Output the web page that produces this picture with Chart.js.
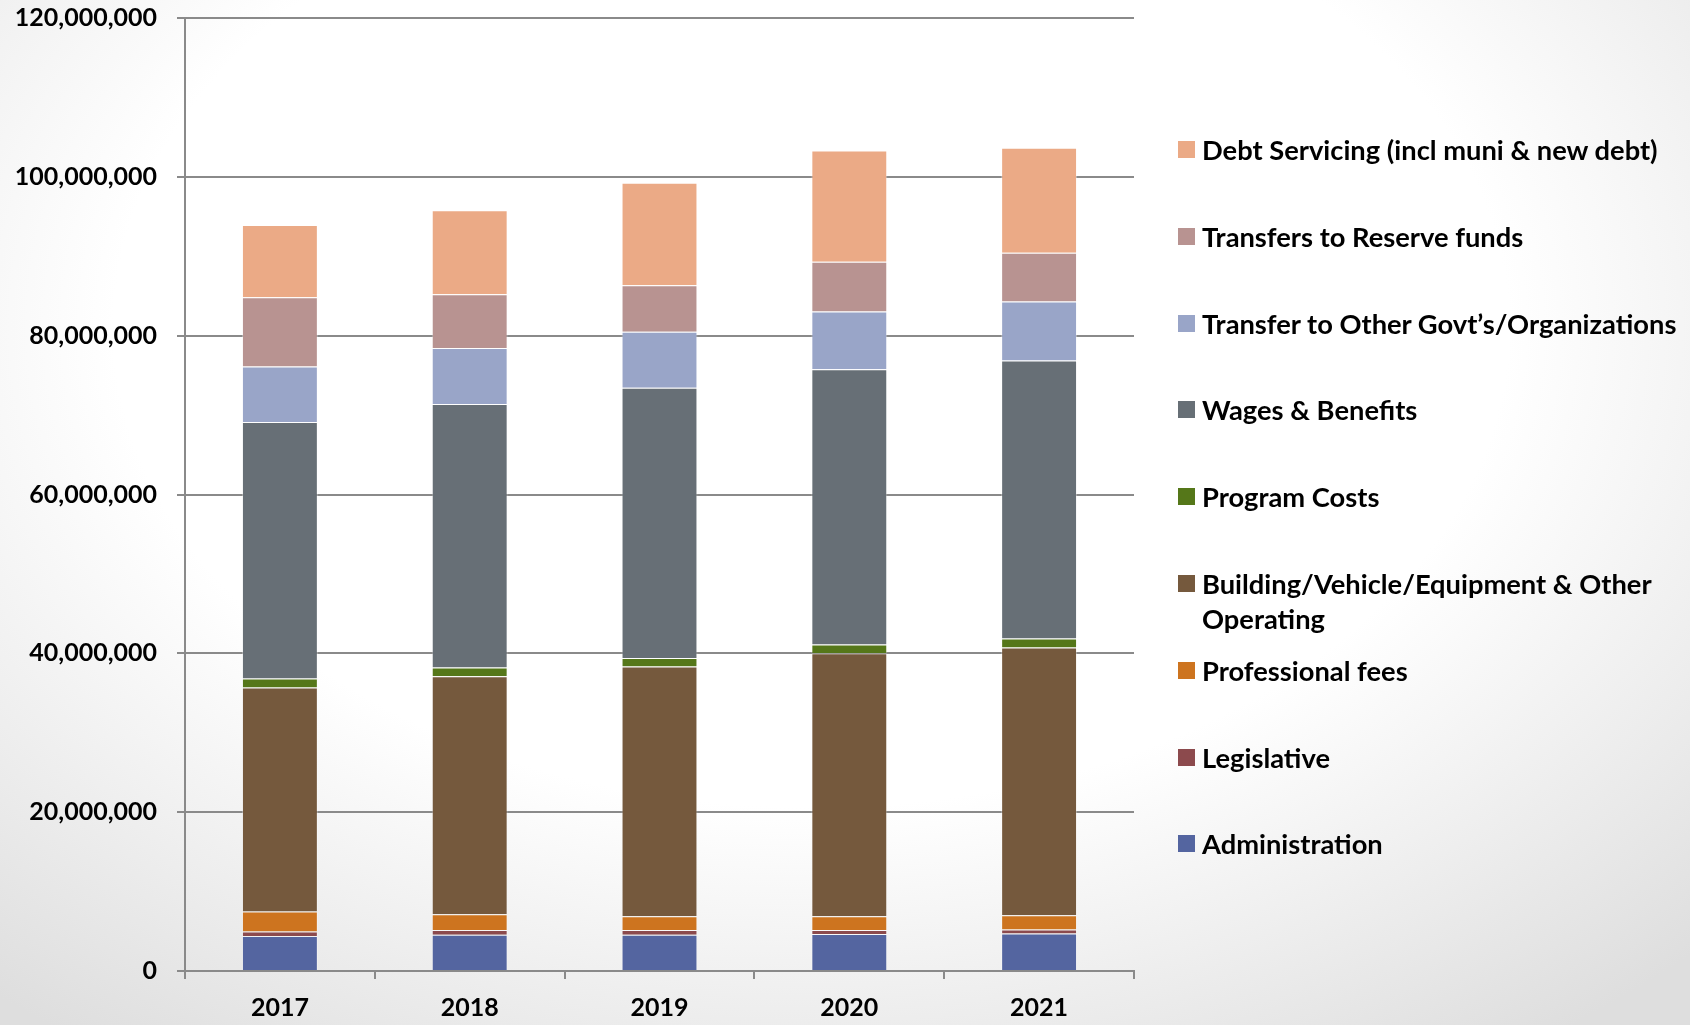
<!DOCTYPE html>
<html>
<head>
<meta charset="utf-8">
<script src="https://cdn.jsdelivr.net/npm/chart.js@4"></script>
<style>
  html, body { margin: 0; padding: 0; }
  body {
    width: 1690px; height: 1025px; overflow: hidden;
    background: radial-gradient(ellipse 75% 85% at 48% 32%, #ffffff 55%, #dedede 100%);
    font-family: Lato, "Open Sans", sans-serif;
  }
  #wrap { position: absolute; left: 0; top: 0; width: 1690px; height: 1025px; }
  #legend { position: absolute; left: 1178px; top: 132px; width: 510px; }
  .item { position: relative; height: 86.8px; }
  .box { position: absolute; left: 0; top: 9px; width: 17px; height: 17px; }
  .txt { position: absolute; left: 24px; top: 0; width: 488px; font-weight: 700; font-size: 27.3px; line-height: 35px; color: #000; }
</style>
</head>
<body>
<div id="wrap"><canvas id="budget"></canvas></div>
<div id="legend"></div>
<script>
  const years = ['2017', '2018', '2019', '2020', '2021'];

  // values in millions, bottom of stack first
  const administration = [4.41, 4.58, 4.58, 4.66, 4.71];
  const legislative = [0.55, 0.58, 0.58, 0.50, 0.50];
  const professionalFees = [2.52, 1.98, 1.73, 1.73, 1.80];
  const buildingOperating = [28.21, 29.98, 31.45, 33.12, 33.72];
  const programCosts = [1.14, 1.09, 1.08, 1.10, 1.13];
  const wagesBenefits = [32.29, 33.20, 34.01, 34.67, 35.02];
  const transferOther = [7.00, 7.05, 7.05, 7.27, 7.43];
  const transferReserve = [8.73, 6.77, 5.88, 6.25, 6.12];
  const debtServicing = [9.07, 10.57, 12.89, 14.02, 13.23];

  const yTicks = [0, 20000000, 40000000, 60000000, 80000000, 100000000, 120000000];

  const series = [
    ['Administration', administration, '#5465A0'],
    ['Legislative', legislative, '#8C4A4D'],
    ['Professional fees', professionalFees, '#CD741F'],
    ['Building/Vehicle/Equipment & Other Operating', buildingOperating, '#75593D'],
    ['Program Costs', programCosts, '#557719'],
    ['Wages & Benefits', wagesBenefits, '#676F76'],
    ['Transfer to Other Govt\u2019s/Organizations', transferOther, '#99A5C8'],
    ['Transfers to Reserve funds', transferReserve, '#B89391'],
    ['Debt Servicing (incl muni & new debt)', debtServicing, '#EBAA86']
  ];

  const axisGray = '#8a8a8a';
  const tickFont = { family: 'Lato', size: 25, weight: 'bold' };

  const ctx = document.getElementById('budget');

  const chart = new Chart(ctx, {
    type: 'bar',
    data: {
      labels: years,
      datasets: series.map(([label, vals, color]) => ({
        label: label,
        data: vals.map(v => v * 1000000),
        backgroundColor: color,
        borderColor: 'rgba(255,255,255,0.35)',
        borderWidth: 1,
        barPercentage: 0.8,
        categoryPercentage: 0.5
      }))
    },
    options: {
      responsive: true,
      maintainAspectRatio: false,
      animation: false,
      layout: { padding: { left: 0, top: 18, right: 556, bottom: 0 } },
      plugins: {
        legend: { display: false },
        tooltip: { enabled: false }
      },
      scales: {
        x: {
          stacked: true,
          afterFit: (s) => { s.height = 54; },
          border: { display: true, color: axisGray, width: 2 },
          grid: { drawOnChartArea: false, drawTicks: true, tickLength: 8, color: axisGray, lineWidth: 2 },
          ticks: { color: '#000', font: tickFont, padding: 14 }
        },
        y: {
          stacked: true,
          min: 0,
          max: 120000000,
          afterFit: (s) => { s.width = 185; s.paddingTop = 0; s.paddingBottom = 0; },
          afterBuildTicks: (s) => { s.ticks = yTicks.map(v => ({ value: v })); },
          border: { display: true, color: axisGray, width: 2 },
          grid: { color: axisGray, lineWidth: 2, tickLength: 8 },
          ticks: {
            color: '#000',
            font: tickFont,
            padding: 20,
            callback: (v) => Number(v).toLocaleString('en-US')
          }
        }
      }
    }
  });

  // legend on the right, top of stack first
  const legend = document.getElementById('legend');
  chart.data.datasets.slice().reverse().forEach(ds => {
    const item = document.createElement('div');
    item.className = 'item';
    const box = document.createElement('div');
    box.className = 'box';
    box.style.background = ds.backgroundColor;
    const txt = document.createElement('div');
    txt.className = 'txt';
    txt.textContent = ds.label;
    item.appendChild(box);
    item.appendChild(txt);
    legend.appendChild(item);
  });
</script>
</body>
</html>
